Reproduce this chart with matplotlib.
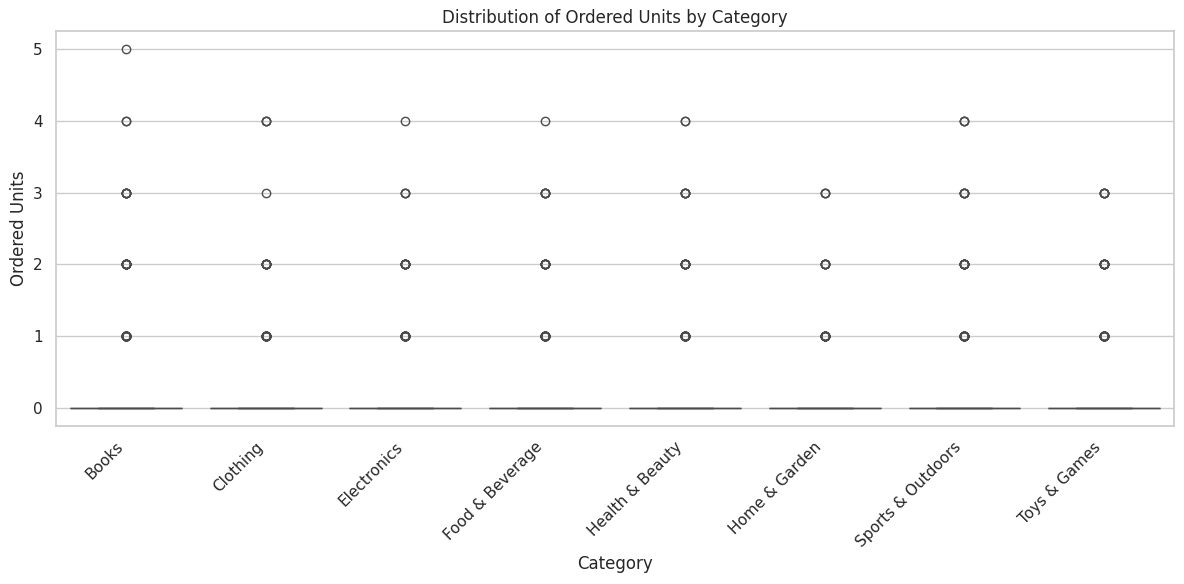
import numpy as np
import pandas as pd
import seaborn as sns
from matplotlib import pyplot as plt

categories = ['Books', 'Clothing', 'Electronics', 'Food & Beverage',
              'Health & Beauty', 'Home & Garden', 'Sports & Outdoors', 'Toys & Games']
unit_values = [0, 1, 2, 3, 4, 5]
# estimated number of rows per ordered-unit value, per category
counts = {
    'Books':             [600, 40, 15, 6, 2, 1],
    'Clothing':          [600, 30, 10, 1, 3, 0],
    'Electronics':       [600, 30, 10, 3, 1, 0],
    'Food & Beverage':   [600, 30, 10, 5, 1, 0],
    'Health & Beauty':   [600, 30, 10, 5, 2, 0],
    'Home & Garden':     [600, 20, 6, 3, 0, 0],
    'Sports & Outdoors': [600, 30, 10, 5, 3, 0],
    'Toys & Games':      [600, 30, 10, 5, 0, 0],
}

rows = []
for cat in categories:
    units = np.repeat(unit_values, counts[cat])
    rows.append(pd.DataFrame({'Category': cat, 'Ordered Units': units}))
df = pd.concat(rows, ignore_index=True)

sns.set_theme(style='whitegrid')
fig, ax = plt.subplots(figsize=(11.84, 5.84), dpi=100)
sns.boxplot(data=df, x='Category', y='Ordered Units', order=categories, ax=ax)
ax.set_title('Distribution of Ordered Units by Category')
plt.xticks(rotation=45, ha='right')
plt.subplots_adjust(left=0.0473, right=0.9916, top=0.947, bottom=0.2705)
plt.savefig('out.png', dpi=100)
